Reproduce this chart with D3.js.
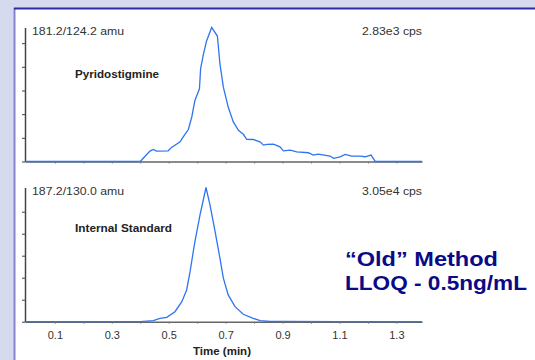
<!DOCTYPE html>
<html>
<head>
<meta charset="utf-8">
<script src="https://cdn.jsdelivr.net/npm/d3@7"></script>
<style>
  body { margin: 0; background: #d5daee; }
  svg { display: block; font-family: "Liberation Sans", Arial, sans-serif; }
</style>
</head>
<body>
<div id="chart"></div>
<script>
// chromatogram traces, time in min / intensity in cps
var pyrTime = [0, 0.40, 0.434, 0.446, 0.457, 0.498, 0.510, 0.540, 0.551, 0.569, 0.581, 0.592, 0.608, 0.612, 0.622, 0.633, 0.651, 0.671, 0.680, 0.692, 0.709, 0.727, 0.745, 0.762, 0.774, 0.797, 0.821, 0.833, 0.845, 0.868, 0.891, 0.903, 0.927, 0.950, 0.991, 1.008, 1.026, 1.067, 1.079, 1.102, 1.120, 1.143, 1.173, 1.190, 1.211, 1.226, 1.39];
var pyrCps = [0, 0, 220, 256, 220, 226, 298, 415, 520, 675, 940, 1290, 1535, 1955, 2270, 2545, 2830, 2650, 2060, 1570, 1150, 835, 660, 575, 470, 465, 415, 345, 360, 367, 310, 226, 240, 205, 185, 136, 157, 115, 67, 100, 150, 115, 115, 100, 136, 0, 0];

var istdTime = [0, 0.40, 0.446, 0.469, 0.493, 0.522, 0.546, 0.563, 0.575, 0.592, 0.610, 0.631, 0.645, 0.663, 0.680, 0.692, 0.709, 0.733, 0.762, 0.797, 0.821, 0.856, 0.90, 1.10, 1.39];
var istdCps = [0, 0, 230, 775, 1000, 2275, 4550, 7215, 11380, 18200, 24290, 30500, 26560, 20480, 14430, 9880, 6080, 3415, 1685, 775, 230, 50, 60, 30, 0];

var xTicks = [0.1, 0.2, 0.3, 0.4, 0.5, 0.6, 0.7, 0.8, 0.9, 1.0, 1.1, 1.2, 1.3];
var xLabels = [0.1, 0.3, 0.5, 0.7, 0.9, 1.1, 1.3];
var pyrTicks = [0, 500, 1000, 1500, 2000, 2500];
var istdTicks = [0, 5000, 10000, 15000, 20000, 25000];

var W = 535, H = 360;
var svg = d3.select("#chart").append("svg")
  .attr("width", W).attr("height", H);

// slide background + white panel
svg.append("rect").attr("width", W).attr("height", H).attr("fill", "#d5daee");
svg.append("rect").attr("x", 14).attr("y", 8).attr("width", W - 14).attr("height", H - 8).attr("fill", "#fff");
svg.append("line").attr("x1", 14.5).attr("x2", 14.5).attr("y1", 8).attr("y2", H)
  .attr("stroke", "#8585d0").attr("stroke-width", 2);
svg.append("line").attr("x1", 14).attr("x2", W).attr("y1", 8.5).attr("y2", 8.5)
  .attr("stroke", "#2b2ba3").attr("stroke-width", 2);

var x = d3.scaleLinear().domain([-0.005, 1.39]).range([25, 422]);

function panel(times, vals, maxV, yTicks, top, bottom, massText, cpsText, name, showLabels) {
  var y = d3.scaleLinear().domain([0, maxV]).range([bottom, top]);

  var xa = svg.append("g")
    .attr("transform", "translate(0," + bottom + ")")
    .call(d3.axisBottom(x).tickValues(xTicks).tickSize(2).tickSizeOuter(0)
      .tickFormat(function (d) { return (showLabels && xLabels.indexOf(d) >= 0) ? d3.format(".1f")(d) : ""; }));
  xa.select(".domain").attr("stroke", "#666").attr("stroke-width", 1.5);
  xa.selectAll(".tick line").attr("stroke", "#777");
  xa.selectAll(".tick text").attr("fill", "#333").style("font-size", "11px").attr("y", 10);

  var ya = svg.append("g")
    .attr("transform", "translate(25,0)")
    .call(d3.axisLeft(y).tickValues(yTicks).tickSize(3).tickSizeOuter(0).tickFormat(""));
  ya.select(".domain").attr("stroke", "#444").attr("stroke-width", 1.5);
  ya.selectAll(".tick line").attr("stroke", "#444");

  var line = d3.line()
    .x(function (d, i) { return x(times[i]); })
    .y(function (d) { return y(d); });
  svg.append("path")
    .datum(vals)
    .attr("d", line)
    .attr("fill", "none")
    .attr("stroke", "#2f74f0")
    .attr("stroke-width", 1.3);

  svg.append("text").attr("x", 32).attr("y", top + 7)
    .attr("fill", "#333").style("font-size", "11px")
    .attr("textLength", 92).attr("lengthAdjust", "spacingAndGlyphs")
    .text(massText);
  svg.append("text").attr("x", 362).attr("y", top + 7)
    .attr("fill", "#333").style("font-size", "11px")
    .attr("textLength", 60).attr("lengthAdjust", "spacingAndGlyphs")
    .text(cpsText);
  svg.append("text").attr("x", 75).attr("y", name.y)
    .attr("fill", "#222").style("font-size", "11px").style("font-weight", "bold")
    .attr("textLength", name.w).attr("lengthAdjust", "spacingAndGlyphs")
    .text(name.text);
}

panel(pyrTime, pyrCps, 2830, pyrTicks, 27.5, 161.5, "181.2/124.2 amu", "2.83e3 cps",
  { text: "Pyridostigmine", y: 77.5, w: 84 }, false);
panel(istdTime, istdCps, 30500, istdTicks, 187.5, 321.7, "187.2/130.0 amu", "3.05e4 cps",
  { text: "Internal Standard", y: 232.3, w: 97 }, true);

svg.append("text").attr("x", 222).attr("y", 355).attr("text-anchor", "middle")
  .attr("fill", "#222").style("font-size", "11.5px").style("font-weight", "bold")
  .text("Time (min)");

// slide annotation
svg.append("text").attr("x", 345).attr("y", 266)
  .attr("fill", "#0a0a88").style("font-size", "21px").style("font-weight", "bold")
  .attr("textLength", 153).attr("lengthAdjust", "spacingAndGlyphs")
  .text("\u201COld\u201D Method");
svg.append("text").attr("x", 345).attr("y", 290)
  .attr("fill", "#0a0a88").style("font-size", "21px").style("font-weight", "bold")
  .attr("textLength", 182).attr("lengthAdjust", "spacingAndGlyphs")
  .text("LLOQ - 0.5ng/mL");
</script>
</body>
</html>
